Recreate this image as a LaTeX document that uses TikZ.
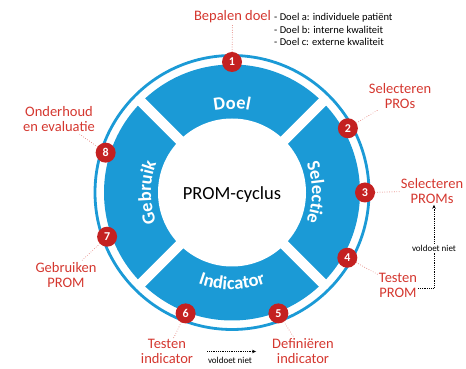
\documentclass[tikz,border=0pt]{standalone}
\usepackage{fontspec}
\setmainfont{Carlito}
\usetikzlibrary{arrows.meta,decorations.text}
\definecolor{ringblue}{HTML}{1B9AD6}
\definecolor{numred}{HTML}{C42121}
\definecolor{labred}{HTML}{D4372F}
\definecolor{dotred}{HTML}{E0736B}
\newcommand\segfont{\fontsize{18.5}{18.5}\selectfont\bfseries}
\tikzset{
  numc/.style={circle, fill=numred, minimum size=20pt, inner sep=0pt, text=white, font=\fontsize{12}{12}\selectfont\bfseries},
  lab/.style={text=labred, align=center, inner sep=1pt, font=\fontsize{14.5}{15}\selectfont},
  leader/.style={dotred, line width=0.9pt, line cap=round, dash pattern=on 0pt off 2.4pt},
  fb/.style={black, line width=0.7pt, dash pattern=on 0.8pt off 1pt},
  small/.style={text=black, inner sep=1pt, font=\fontsize{9}{10}\selectfont},
  segtext/.style={decorate, decoration={text along path, text={|\segfont|#1}, text align=center, text color=white}}
}
\begin{document}
\begin{tikzpicture}[x=1pt,y=1pt]
\useasboundingbox (0,0) rectangle (466,369);
\coordinate (C) at (232,176.5);
% ring segments
\fill[ringblue] (C) circle (128);
\foreach \a in {45,135,225,315} \draw[white, line width=10pt] (C) -- ++(\a:134);
\fill[white] (C) circle (74);
\draw[ringblue, line width=2.8pt] (C) circle (137);
\node[font=\fontsize{18.5}{18.5}\selectfont] (center) at ([yshift=-2pt]C) {PROM-cyclus};
% segment labels
\path[segtext=Doel] ([shift={(135:83.5)}]C) arc[start angle=135, end angle=45, radius=83.5];
\path[segtext=Selectie] ([shift={(45:80)}]C) arc[start angle=45, end angle=-45, radius=80];
\path[segtext=Indicator] ([shift={(-135:97)}]C) arc[start angle=-135, end angle=-45, radius=97];
\path[segtext=Gebruik] ([shift={(225:81)}]C) arc[start angle=225, end angle=135, radius=81];
% number circles
\node[numc] (n1) at ([shift={(90:130.5)}]C) {1};
\node[numc] (n2) at ([shift={(29:132.5)}]C) {2};
\node[numc] (n3) at ([shift={(0:133)}]C) {3};
\node[numc] (n4) at ([shift={(-29.5:132.5)}]C) {4};
\node[numc] (n5) at ([shift={(-69:129.5)}]C) {5};
\node[numc] (n6) at ([shift={(-111:129.5)}]C) {6};
\node[numc] (n7) at ([shift={(-160.5:132.5)}]C) {7};
\node[numc] (n8) at ([shift={(162.5:132.5)}]C) {8};
% labels
\node[lab] (l1) at (232.5,352) {Bepalen doel};
\node[small, anchor=west, align=left, font=\fontsize{10.5}{12.5}\selectfont] (list) at (273,339.5) {- Doel a: individuele patiënt\\- Doel b: interne kwaliteit\\- Doel c: externe kwaliteit};
\node[lab] (l2) at (400,272.5) {Selecteren\\PROs};
\node[lab] (l3) at (432,178) {Selecteren\\PROMs};
\node[lab] (l4) at (398,83.5) {Testen\\PROM};
\node[lab] (l5) at (303,17.5) {Definiëren\\indicator};
\node[lab] (l6) at (167,17.5) {Testen\\indicator};
\node[lab] (l7) at (66,93.5) {Gebruiken\\PROM};
\node[lab] (l8) at (59,249.5) {Onderhoud\\en evaluatie};
\node[small] (v1) at (434,121) {voldoet niet};
\node[small] (v2) at (230,9) {voldoet niet};
% leaders
\foreach \i in {1,...,8} \draw[leader] (n\i) -- (l\i);
% feedback arrows
\draw[fb] ([yshift=-2.5pt]l4.east) -| (v1.south);
\draw[fb, -{Stealth[length=4pt,width=3.5pt]}] (v1.north) -- (v1.north |- l3.south);
\draw[fb, -{Stealth[length=4pt,width=3.5pt]}, shorten <=13pt, shorten >=15pt] (l6) -- (l5);
\end{tikzpicture}
\end{document}
